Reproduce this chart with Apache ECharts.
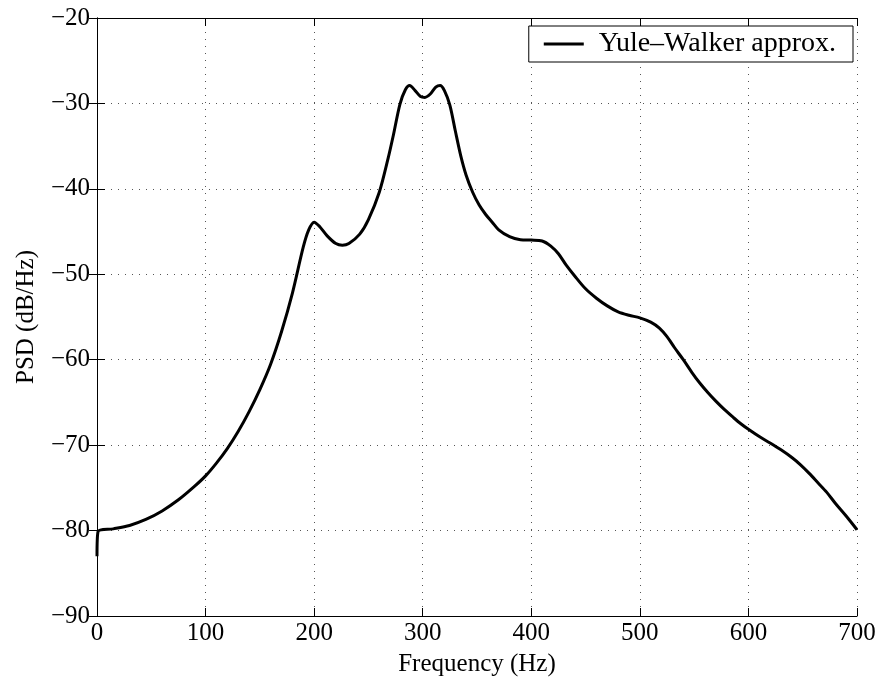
<!DOCTYPE html>
<html>
<head>
<meta charset="utf-8">
<title>PSD – Yule–Walker</title>
<script src="https://cdn.jsdelivr.net/npm/echarts@6/dist/echarts.min.js"></script>
<style>
  html, body { margin: 0; padding: 0; background: #fff; }
  #chart { width: 881px; height: 682px; }
</style>
</head>
<body>
<div id="chart"></div>
<script>
// Frequency samples (Hz) and the Yule–Walker PSD estimate (dB/Hz)
const freqs = [
  0, 1, 15, 30, 45, 60, 75, 90, 100, 110, 120, 130, 140, 150, 160, 170, 180, 190, 195,
  200, 205, 212, 220, 226, 232, 242, 250, 260, 268, 273, 279, 284, 288, 293, 298,
  302, 307, 312, 316, 320, 325, 330, 335, 340, 346, 352, 358, 364, 370, 380, 390,
  400, 410, 418, 425, 432, 440, 450, 460, 470, 480, 490, 500, 510, 518, 525, 532,
  540, 548, 555, 563, 570, 578, 586, 593, 600, 610, 620, 630, 640, 648, 656, 664,
  672, 680, 690, 700
];
const psdDb = [
  -83.0, -80.1, -79.8, -79.4, -78.7, -77.7, -76.4, -74.8, -73.6, -72.1, -70.4, -68.4, -66.1, -63.5, -60.5, -56.7, -52.2, -46.8, -44.8,
  -43.9, -44.4, -45.5, -46.4, -46.6, -46.4, -45.3, -43.6, -40.4, -36.5, -33.7, -30.1, -28.4, -27.9, -28.5, -29.2,
  -29.3, -28.9, -28.1, -27.9, -28.5, -30.2, -33.2, -36.1, -38.4, -40.4, -41.9, -43.0, -43.9, -44.8, -45.6, -45.95,
  -46.0, -46.1, -46.7, -47.6, -48.9, -50.2, -51.7, -52.8, -53.7, -54.4, -54.8, -55.1, -55.6, -56.3, -57.3, -58.6,
  -60.0, -61.5, -62.7, -63.9, -64.85, -65.85, -66.75, -67.5, -68.15, -69.0, -69.75, -70.55, -71.45, -72.3, -73.3, -74.4,
  -75.5, -76.8, -78.3, -79.9
];
const seriesName = 'Yule\u2013Walker approx.';
const xTicks = { min: 0, max: 700, step: 100 };
const yTicks = { min: -90, max: -20, step: 10 };

const font = 'Liberation Serif, Times New Roman, serif';
const minus = v => String(v).replace('-', '\u2212');

const frameAxis = {
  axisLine: { show: true, lineStyle: { color: '#000', width: 1 } },
  axisTick: { show: true, inside: true, length: 8, lineStyle: { color: '#000', width: 1 } },
  splitLine: { show: false }
};
const gridDots = { show: true, lineStyle: { color: '#555', width: 1, type: [1, 6] } };

const chart = echarts.init(document.getElementById('chart'), null, { renderer: 'canvas' });
chart.setOption({
  animation: false,
  backgroundColor: '#fff',
  grid: { left: 97, right: 24, top: 18, bottom: 64, containLabel: false },
  legend: {
    right: 28, top: 26,
    data: [{ name: seriesName, icon: 'rect' }],
    itemWidth: 40, itemHeight: 3,
    borderColor: '#000', borderWidth: 1, borderRadius: 0,
    padding: [4, 17, 4, 15],
    backgroundColor: '#fff',
    textStyle: { fontFamily: font, fontSize: 28, color: '#000', padding: [0, 0, 0, 10] }
  },
  xAxis: [
    Object.assign({}, frameAxis, {
      type: 'value', position: 'bottom',
      min: xTicks.min, max: xTicks.max, interval: xTicks.step,
      name: 'Frequency (Hz)', nameLocation: 'middle', nameGap: 36,
      nameTextStyle: { fontFamily: font, fontSize: 25, color: '#000' },
      axisLabel: { fontFamily: font, fontSize: 25, color: '#000', margin: 5 },
      splitLine: gridDots
    }),
    Object.assign({}, frameAxis, {
      type: 'value', position: 'top',
      min: xTicks.min, max: xTicks.max, interval: xTicks.step,
      axisLabel: { show: false }
    })
  ],
  yAxis: [
    Object.assign({}, frameAxis, {
      type: 'value', position: 'left',
      min: yTicks.min, max: yTicks.max, interval: yTicks.step,
      name: 'PSD (dB/Hz)', nameLocation: 'middle', nameGap: 58, nameRotate: 90,
      nameTextStyle: { fontFamily: font, fontSize: 25, color: '#000' },
      axisLabel: { fontFamily: font, fontSize: 25, color: '#000', margin: 7, formatter: minus },
      splitLine: gridDots
    }),
    Object.assign({}, frameAxis, {
      type: 'value', position: 'right',
      min: yTicks.min, max: yTicks.max, interval: yTicks.step,
      axisLabel: { show: false }
    })
  ],
  series: [{
    name: seriesName,
    type: 'line',
    xAxisIndex: 0, yAxisIndex: 0,
    data: freqs.map((f, i) => [f, psdDb[i]]),
    showSymbol: false, symbol: 'none',
    smooth: 0.3,
    lineStyle: { color: '#000', width: 3 },
    itemStyle: { color: '#000' }
  }]
});
</script>
</body>
</html>
